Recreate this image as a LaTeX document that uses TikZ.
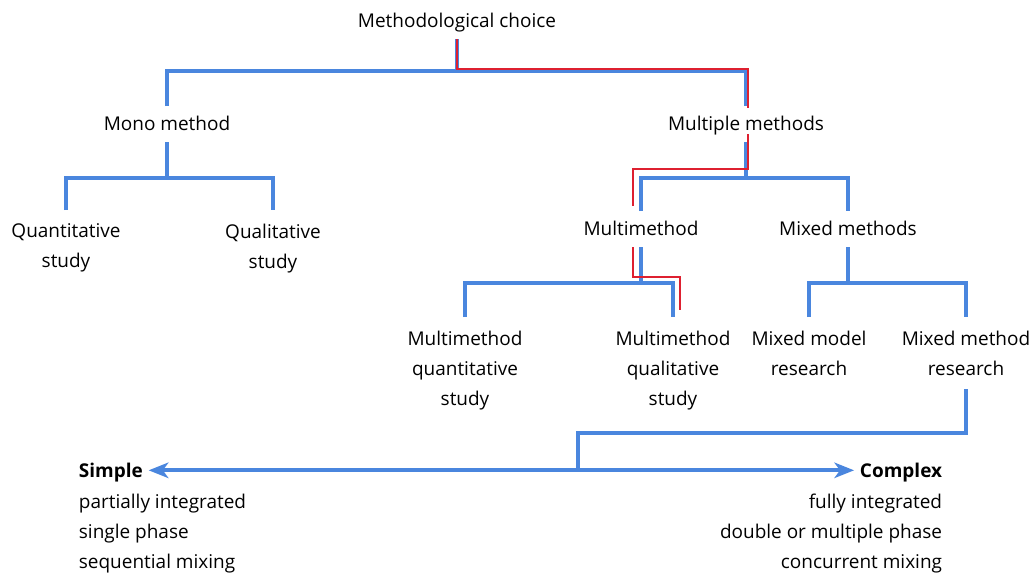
\documentclass[tikz,border=0pt]{standalone}
\usepackage{fontspec}
\setmainfont{Open Sans}
\usetikzlibrary{arrows.meta, calc}
\definecolor{treeblue}{RGB}{74,134,222}
\definecolor{markred}{RGB}{222,32,48}

\begin{document}
\begin{tikzpicture}[x=0.025cm, y=-0.025cm, line cap=butt, line join=miter,
	>={Stealth[length=14pt, width=11pt, inset=4pt]},
	font=\fontsize{13.5}{21.5}\selectfont,
	lbl/.style={align=center, inner xsep=2pt, inner ysep=9.5pt},
	one/.style={lbl, text height=11pt, text depth=2.5pt, inner ysep=6pt},
	ends/.style={inner xsep=4pt, inner ysep=6pt, text height=11.5pt, text depth=2pt},
	detail/.style={inner xsep=4pt, inner ysep=3.5pt},
	branch/.style={treeblue, line width=2.6pt},
	hilite/.style={markred, line width=1.4pt}]
\useasboundingbox (0,0) rectangle (1035,579);
%========================
% Tree of choices
%========================
\node[one, anchor=base] (choice) at (457,27) {Methodological choice};
\node[one, anchor=north] (mono) at (167,106) {Mono method};
\node[one, anchor=north] (multi) at (746,106) {Multiple methods};
\node[lbl, anchor=north] (quant) at (66,210) {Quantitative\\study};
\node[lbl, anchor=north] (qual) at (273,210) {Qualitative\\study};
\node[one, anchor=north] (mm) at (641,211) {Multimethod};
\node[one, anchor=north] (mixed) at (848,211) {Mixed methods};
\node[lbl, anchor=north] (mmquant) at (465,317) {Multimethod\\quantitative\\study};
\node[lbl, anchor=north] (mmqual) at (673,317) {Multimethod\\qualitative\\study};
\node[lbl, anchor=north] (mixmodel) at (809,317) {Mixed model\\research};
\node[lbl, anchor=north] (mixmethod) at (966,317) {Mixed method\\research};

% levels of the bars
\coordinate (b0) at (0,71);
\coordinate (b1) at (0,178);
\coordinate (b3) at (0,283);
\coordinate (mid) at (578,433);

% branches
\draw[branch] (choice.south) -- (choice.south |- b0);
\draw[branch] (mono.north) |- (multi.north |- b0) -- (multi.north);
\draw[branch] (mono.south) -- (mono.south |- b1);
\draw[branch] (quant.north) |- (qual.north |- b1) -- (qual.north);
\draw[branch] (multi.south) -- (multi.south |- b1);
\draw[branch] (mm.north) |- (mixed.north |- b1) -- (mixed.north);
\draw[branch] (mm.south) -- (mm.south |- b3);
\draw[branch] (mmquant.north) |- (mmqual.north |- b3) -- (mmqual.north);
\draw[branch] (mixed.south) -- (mixed.south |- b3);
\draw[branch] (mixmodel.north) |- (mixmethod.north |- b3) -- (mixmethod.north);

% red route drawn over the tree
\draw[hilite] (choice.south) |- ($(multi.north |- b0)+(2,-2)$) -- ($(multi.north)+(2,2)$);
\draw[hilite] ($(multi.south)+(2,-8)$) |- ($(mm.north |- b1)+(-8,-9)$) -- ($(mm.north)+(-8,-5)$);
\draw[hilite] ($(mm.south)+(-8,0)$) |- ($(mmqual.north |- b3)+(7,-6)$) -- ($(mmqual.north)+(7,-7)$);

%========================
% Simple -- Complex scale
%========================
\node[ends, anchor=base west] (simple) at (73,477) {\bfseries Simple};
\node[ends, anchor=base east] (complex) at (948,477) {\bfseries Complex};
\node[detail, align=left, anchor=north west] (simpledet) at (simple.south west)
	{partially integrated\\single phase\\sequential mixing};
\node[detail, align=right, anchor=north east] (complexdet) at (complex.south east)
	{fully integrated\\double or multiple phase\\concurrent mixing};

\draw[branch] (mixmethod.south) |- (mid) -- (mid |- simple);
\draw[branch, <->] (simple) -- (complex);
\end{tikzpicture}
\end{document}
